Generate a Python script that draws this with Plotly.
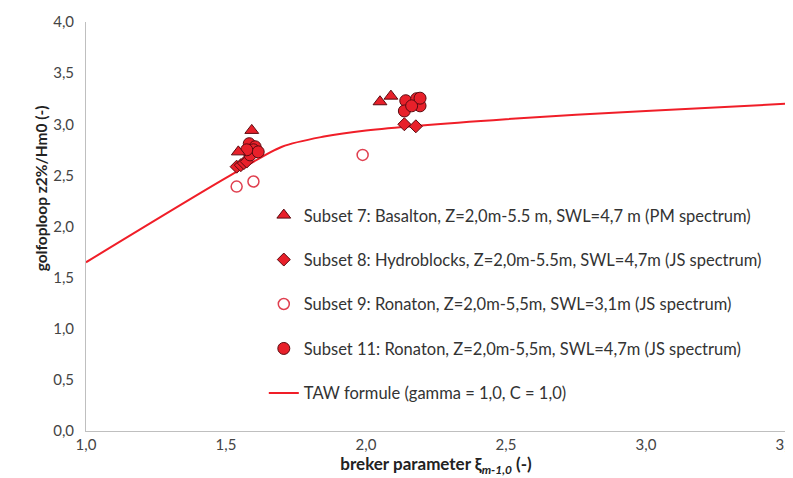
import plotly.graph_objects as go

# Subset 7: Basalton (triangles)
s7_x = [1.592, 1.544, 2.050, 2.089]
s7_y = [2.94, 2.73, 3.22, 3.275]

# Subset 8: Hydroblocks (diamonds)
s8_x = [1.538, 1.553, 1.564, 1.574, 2.137, 2.178]
s8_y = [2.585, 2.60, 2.62, 2.635, 3.00, 2.98]

# Subset 9: Ronaton SWL=3.1m (open circles)
s9_x = [1.538, 1.598, 1.988]
s9_y = [2.39, 2.44, 2.70]

# Subset 11: Ronaton SWL=4.7m (filled circles)
s11_x = [1.583, 1.604, 1.598, 1.586, 1.615, 1.574, 2.142, 2.137, 2.181, 2.193, 2.163, 2.193]
s11_y = [2.81, 2.78, 2.75, 2.70, 2.73, 2.75, 3.23, 3.13, 3.25, 3.18, 3.18, 3.255]

# TAW formula curve
taw_x = [1.0, 1.5, 1.7, 1.85, 2.0, 2.5, 3.0, 3.5]
taw_y = [1.65, 2.475, 2.78, 2.88, 2.94, 3.05, 3.13, 3.20]

x_ticks = [1.0, 1.5, 2.0, 2.5, 3.0, 3.5]
y_ticks = [0, 0.5, 1.0, 1.5, 2.0, 2.5, 3.0, 3.5, 4.0]

names = [
    "Subset 7: Basalton, Z=2,0m-5.5 m, SWL=4,7 m (PM spectrum)",
    "Subset 8: Hydroblocks, Z=2,0m-5.5m, SWL=4,7m (JS spectrum)",
    "Subset 9: Ronaton, Z=2,0m-5,5m, SWL=3,1m (JS spectrum)",
    "Subset 11: Ronaton, Z=2,0m-5,5m, SWL=4,7m (JS spectrum)",
    "TAW formule (gamma = 1,0, C = 1,0)",
]

RED = "#E8202A"
DARK = "#5A0A10"
FONT = "Lato"

fig = go.Figure()
fig.add_trace(go.Scatter(x=taw_x, y=taw_y, mode="lines", name=names[4], legendgroup="g5",
                         line=dict(color="#F01E28", width=2, shape="spline", smoothing=0.8),
                         legendrank=5))
fig.add_trace(go.Scatter(x=s9_x, y=s9_y, mode="markers", name=names[2], legendgroup="g3",
                         marker=dict(symbol="circle", size=11, color="white",
                                     line=dict(color="#E04050", width=1.5)), legendrank=3))
fig.add_trace(go.Scatter(x=s8_x, y=s8_y, mode="markers", name=names[1], legendgroup="g2",
                         marker=dict(symbol="diamond", size=10, color=RED,
                                     line=dict(color=DARK, width=1)), legendrank=2))
fig.add_trace(go.Scatter(x=s11_x, y=s11_y, mode="markers", name=names[3], legendgroup="g4",
                         marker=dict(symbol="circle", size=12, color=RED,
                                     line=dict(color=DARK, width=1)), legendrank=4))
fig.add_trace(go.Scatter(x=s7_x, y=s7_y, mode="markers", name=names[0], legendgroup="g1",
                         marker=dict(symbol="triangle-up", size=12, color=RED,
                                     line=dict(color=DARK, width=1)), legendrank=1))

fig.add_annotation(text="<b>golfoploop z2%/Hm0 (-)</b>", textangle=-90,
                   xref="paper", yref="paper", x=-0.063, y=0.593,
                   xanchor="center", yanchor="middle", showarrow=False,
                   font=dict(family=FONT, size=15.5, color="#222222"))

fig.update_layout(
    width=800, height=470,
    margin=dict(l=78, r=22, t=14, b=47),
    separators=",.",
    paper_bgcolor="white", plot_bgcolor="white",
    font=dict(family=FONT, size=15, color="#333333"),
    legend=dict(x=0.254, y=0.57, xanchor="left", yanchor="top",
                bgcolor="rgba(0,0,0,0)", font=dict(family=FONT, size=16.5, color="#333333"),
                traceorder="grouped", tracegroupgap=20),
    xaxis=dict(range=[1.0, 3.5], tickvals=x_ticks, tickformat=".1f", automargin=False,
               showgrid=False, zeroline=False, showline=True, linecolor="#BFBFBF", linewidth=1,
               ticks="", tickfont=dict(family=FONT, size=15, color="#444444"),
               title=dict(text="<b>breker parameter ξ<sub><i>m-1,0</i></sub> (-)</b>",
                          font=dict(family=FONT, size=17, color="#222222"), standoff=0)),
    yaxis=dict(range=[0, 4.0], tickvals=y_ticks, tickformat=".1f", automargin=False,
               showgrid=False, zeroline=False, showline=True, linecolor="#BFBFBF", linewidth=1,
               ticks="", ticklabelstandoff=8, tickfont=dict(family=FONT, size=15, color="#444444")),
)

fig.write_html("out.html")
